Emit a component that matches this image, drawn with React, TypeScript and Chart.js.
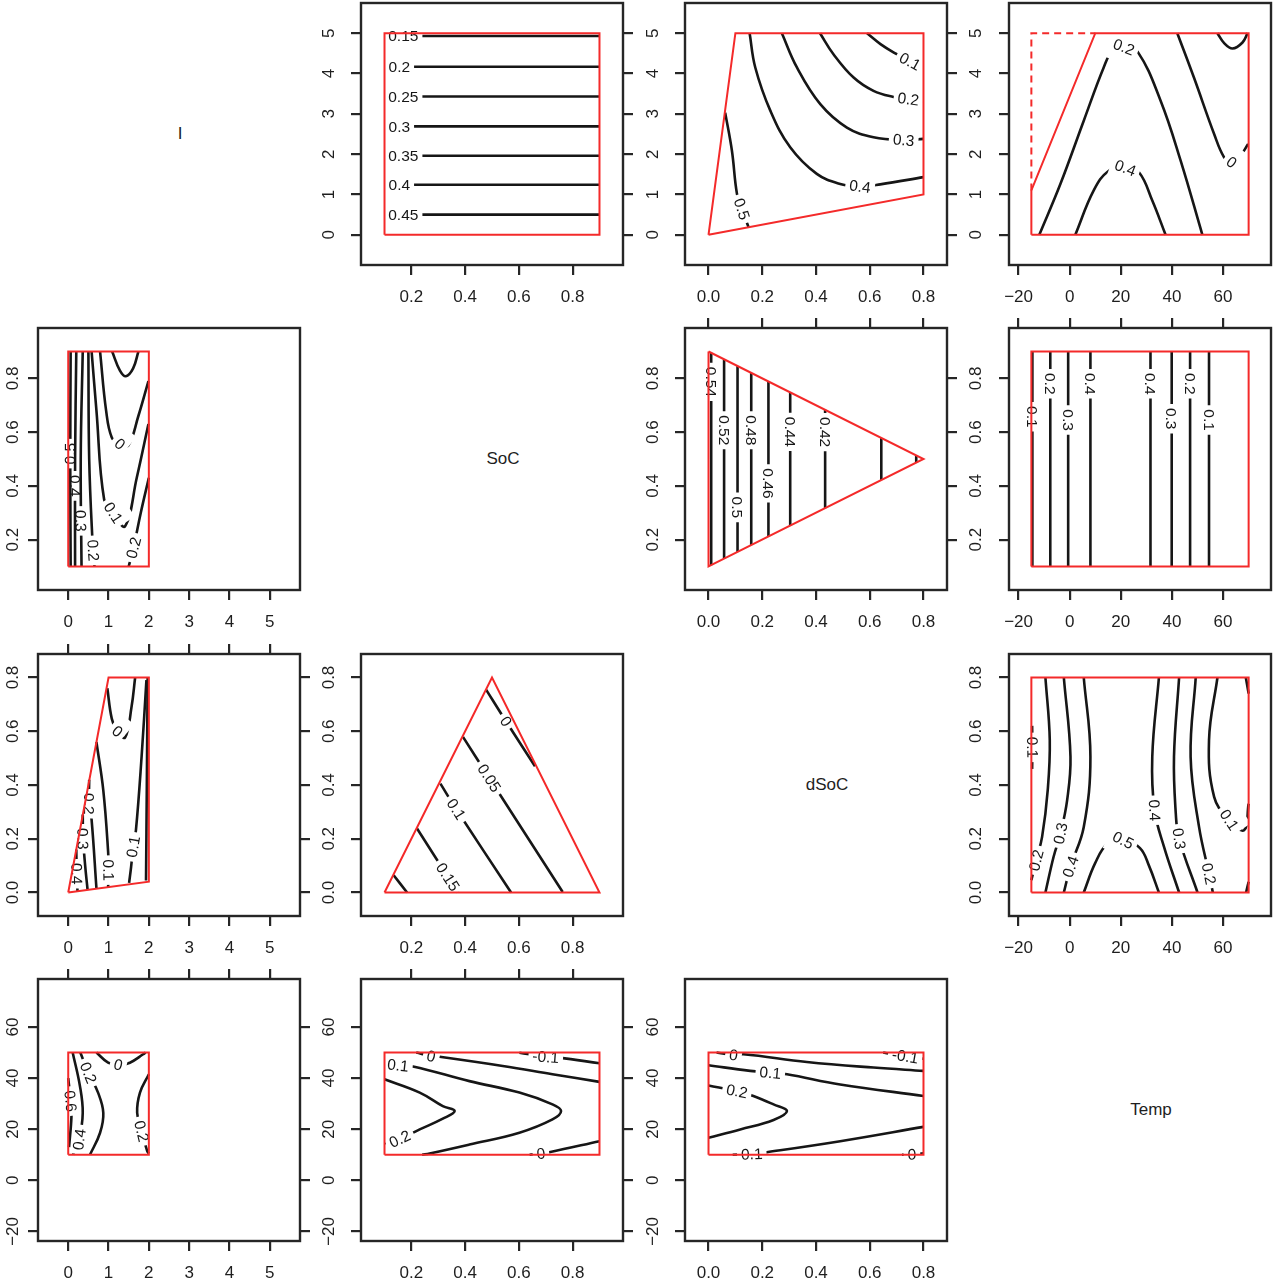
import React, { useEffect, useRef } from 'react';
import { Chart, registerables } from 'chart.js';

Chart.register(...registerables);

type Pt = [number, number];
type Contour = { level: string; pts: Pt[]; at?: Pt };

// ---------------- variables / axes ----------------
const VARIABLES = ['I', 'SoC', 'dSoC', 'Temp'];
const I_LIMITS: Pt = [-0.75, 5.75];
const SOC_LIMITS: Pt = [0.0125, 0.9875];
const DSOC_LIMITS: Pt = [-0.0875, 0.8875];
const TEMP_LIMITS: Pt = [-23.75, 78.75];
const I_TICKS = [0, 1, 2, 3, 4, 5];
const SOC_TICKS = [0.2, 0.4, 0.6, 0.8];
const DSOC_TICKS = [0, 0.2, 0.4, 0.6, 0.8];
const TEMP_TICKS = [-20, 0, 20, 40, 60];

// ---------------- panel data (x variable _ y variable) ----------------
// row 1
const SOC_I_REGION: Pt[] = [[0.1, 0], [0.9, 0], [0.9, 5], [0.1, 5], [0.1, 0]];
const SOC_I_CONTOURS: Contour[] = [
  { level: '0.15', pts: [[0.1, 4.93], [0.9, 4.93]], at: [0.17, 4.93] },
  { level: '0.2', pts: [[0.1, 4.17], [0.9, 4.17]], at: [0.155, 4.17] },
  { level: '0.25', pts: [[0.1, 3.43], [0.9, 3.43]], at: [0.17, 3.43] },
  { level: '0.3', pts: [[0.1, 2.69], [0.9, 2.69]], at: [0.155, 2.69] },
  { level: '0.35', pts: [[0.1, 1.96], [0.9, 1.96]], at: [0.17, 1.96] },
  { level: '0.4', pts: [[0.1, 1.24], [0.9, 1.24]], at: [0.155, 1.24] },
  { level: '0.45', pts: [[0.1, 0.5], [0.9, 0.5]], at: [0.17, 0.5] },
];

const DSOC_I_REGION: Pt[] = [[0, 0], [0.1, 5], [0.8, 5], [0.8, 1], [0, 0]];
const DSOC_I_CONTOURS: Contour[] = [
  { level: '0.1', pts: [[0.59, 5], [0.64, 4.73], [0.695, 4.5], [0.75, 4.3], [0.8, 4.16]], at: [0.75, 4.3] },
  { level: '0.2', pts: [[0.415, 5], [0.465, 4.48], [0.54, 3.9], [0.614, 3.57], [0.688, 3.42], [0.744, 3.37], [0.8, 3.32]], at: [0.744, 3.37] },
  { level: '0.3', pts: [[0.273, 5], [0.329, 4.15], [0.416, 3.24], [0.515, 2.66], [0.614, 2.42], [0.726, 2.35], [0.8, 2.38]], at: [0.726, 2.35] },
  { level: '0.4', pts: [[0.153, 5], [0.174, 4.15], [0.23, 3.08], [0.304, 2.17], [0.403, 1.51], [0.49, 1.26], [0.564, 1.2], [0.639, 1.25], [0.8, 1.43]], at: [0.564, 1.2] },
  { level: '0.5', pts: [[0.062, 3.03], [0.087, 2.09], [0.106, 1.01], [0.124, 0.64], [0.149, 0.19]], at: [0.124, 0.64] },
];

const TEMP_I_REGION: Pt[] = [[-15, 0], [70, 0], [70, 5], [10, 5], [-15, 1.1], [-15, 0]];
const TEMP_I_DASHED: Pt[] = [[-15, 1.1], [-15, 5], [10, 5]];
const TEMP_I_CONTOURS: Contour[] = [
  { level: '0.2', pts: [[-11.9, 0], [-3.65, 1.26], [5.5, 2.83], [13.3, 4.15], [17, 4.6], [21.2, 4.68], [26.5, 4.55], [35.6, 3.32], [43.4, 1.84], [51.9, 0]], at: [21.2, 4.66] },
  { level: '0.4', pts: [[2.2, 0], [9.4, 1.1], [15.3, 1.59], [21.8, 1.68], [27.1, 1.55], [32.3, 0.85], [37.5, 0]], at: [21.8, 1.66] },
  { level: '0', pts: [[42.1, 5], [48.6, 3.9], [56.5, 2.5], [60.4, 1.92], [63.3, 1.78], [66.3, 1.92], [69.8, 2.25]], at: [63.3, 1.8] },
  { level: '-0.1', pts: [[57.8, 5], [60.5, 4.75], [63.7, 4.62], [67.6, 4.77], [69.6, 5]] },
];

// row 2
const I_SOC_REGION: Pt[] = [[0, 0.1], [2, 0.1], [2, 0.9], [0, 0.9], [0, 0.1]];
const I_SOC_CONTOURS: Contour[] = [
  { level: '0.5', pts: [[0.06, 0.9], [0.05, 0.5], [0.06, 0.1]], at: [0.05, 0.52] },
  { level: '0.4', pts: [[0.2, 0.9], [0.17, 0.5], [0.17, 0.1]], at: [0.17, 0.4] },
  { level: '0.3', pts: [[0.36, 0.9], [0.31, 0.5], [0.33, 0.1]], at: [0.31, 0.27] },
  { level: '0.2', pts: [[0.5, 0.9], [0.52, 0.5], [0.6, 0.2], [0.65, 0.1]], at: [0.62, 0.16] },
  { level: '0.1', pts: [[0.58, 0.9], [0.7, 0.68], [0.89, 0.35], [1.12, 0.297], [1.41, 0.25], [1.7, 0.43], [1.99, 0.63]], at: [1.12, 0.3] },
  { level: '0', pts: [[0.79, 0.9], [0.94, 0.68], [1.08, 0.58], [1.28, 0.555], [1.49, 0.55], [1.74, 0.66], [1.99, 0.79]], at: [1.28, 0.556] },
  { level: '-0.1', pts: [[1.09, 0.9], [1.28, 0.83], [1.43, 0.808], [1.61, 0.837], [1.74, 0.9]] },
  { level: '0.2', pts: [[1.5, 0.1], [1.62, 0.17], [1.8, 0.3], [2.0, 0.43]], at: [1.62, 0.17] },
];

const DSOC_SOC_REGION: Pt[] = [[0, 0.9], [0.8, 0.5], [0, 0.1], [0, 0.9]];
const DSOC_SOC_CONTOURS: Contour[] = [
  { level: '0.54', pts: [[0.01, 0.105], [0.01, 0.895]], at: [0.01, 0.787] },
  { level: '0.52', pts: [[0.058, 0.129], [0.058, 0.871]], at: [0.058, 0.607] },
  { level: '0.5', pts: [[0.108, 0.154], [0.108, 0.846]], at: [0.108, 0.32] },
  { level: '0.48', pts: [[0.159, 0.18], [0.159, 0.82]], at: [0.159, 0.607] },
  { level: '0.46', pts: [[0.223, 0.212], [0.223, 0.788]], at: [0.223, 0.409] },
  { level: '0.44', pts: [[0.304, 0.252], [0.304, 0.748]], at: [0.304, 0.601] },
  { level: '0.42', pts: [[0.434, 0.317], [0.434, 0.683]], at: [0.434, 0.6] },
  { level: '0.4', pts: [[0.643, 0.422], [0.643, 0.578]] },
  { level: '0.38', pts: [[0.773, 0.487], [0.773, 0.513]] },
];

const TEMP_SOC_REGION: Pt[] = [[-15, 0.1], [70, 0.1], [70, 0.9], [-15, 0.9], [-15, 0.1]];
const TEMP_SOC_CONTOURS: Contour[] = [
  { level: '0.1', pts: [[-14.6, 0.1], [-14.6, 0.9]], at: [-14.6, 0.657] },
  { level: '0.2', pts: [[-7.6, 0.1], [-7.6, 0.9]], at: [-7.6, 0.78] },
  { level: '0.3', pts: [[-0.6, 0.1], [-0.6, 0.9]], at: [-0.6, 0.645] },
  { level: '0.4', pts: [[8.1, 0.1], [8.1, 0.9]], at: [8.1, 0.78] },
  { level: '0.4', pts: [[31.6, 0.1], [31.6, 0.9]], at: [31.6, 0.78] },
  { level: '0.3', pts: [[39.9, 0.1], [39.9, 0.9]], at: [39.9, 0.65] },
  { level: '0.2', pts: [[47.1, 0.1], [47.1, 0.9]], at: [47.1, 0.78] },
  { level: '0.1', pts: [[54.5, 0.1], [54.5, 0.9]], at: [54.5, 0.645] },
];

// row 3
const I_DSOC_REGION: Pt[] = [[0, 0], [1, 0.8], [2, 0.8], [2, 0.04], [0, 0]];
const I_DSOC_CONTOURS: Contour[] = [
  { level: '0', pts: [[0.97, 0.76], [1.08, 0.647], [1.2, 0.604], [1.41, 0.577], [1.57, 0.69], [1.66, 0.8]], at: [1.22, 0.6] },
  { level: '0.1', pts: [[0.7, 0.56], [0.87, 0.38], [0.99, 0.151], [1.0, 0.083], [0.99, 0.02]], at: [1.0, 0.083] },
  { level: '0.1', pts: [[1.94, 0.79], [1.82, 0.505], [1.68, 0.232], [1.61, 0.17], [1.56, 0.095], [1.51, 0.036]], at: [1.61, 0.17] },
  { level: '0.2', pts: [[1.97, 0.8], [1.95, 0.4], [1.93, 0.045]] },
  { level: '0.2', pts: [[0.52, 0.42], [0.52, 0.33], [0.58, 0.27], [0.7, 0.015]], at: [0.52, 0.33] },
  { level: '0.3', pts: [[0.36, 0.29], [0.37, 0.2], [0.42, 0.1], [0.48, 0.01]], at: [0.36, 0.2] },
  { level: '0.4', pts: [[0.2, 0.16], [0.21, 0.07], [0.23, 0.005]], at: [0.21, 0.07] },
];

const SOC_DSOC_REGION: Pt[] = [[0.1, 0], [0.5, 0.8], [0.9, 0], [0.1, 0]];
const SOC_DSOC_CONTOURS: Contour[] = [
  { level: '0', pts: [[0.478, 0.755], [0.552, 0.637], [0.66, 0.47]], at: [0.552, 0.637] },
  { level: '0.05', pts: [[0.392, 0.579], [0.49, 0.426], [0.763, 0.002]], at: [0.49, 0.426] },
  { level: '0.1', pts: [[0.308, 0.405], [0.367, 0.31], [0.571, 0]], at: [0.367, 0.31] },
  { level: '0.15', pts: [[0.221, 0.238], [0.336, 0.058], [0.373, 0]], at: [0.336, 0.058] },
  { level: '0.2', pts: [[0.134, 0.064], [0.184, 0]] },
];

const TEMP_DSOC_REGION: Pt[] = [[-15, 0], [70, 0], [70, 0.8], [-15, 0.8], [-15, 0]];
const TEMP_DSOC_CONTOURS: Contour[] = [
  { level: '0.1', pts: [[-14.7, 0.62], [-14.6, 0.54], [-14.7, 0.46]], at: [-14.6, 0.54] },
  { level: '0.2', pts: [[-9.5, 0.8], [-7.8, 0.567], [-8.6, 0.381], [-10.8, 0.207], [-13.1, 0.12], [-15, 0.046]], at: [-13.1, 0.12] },
  { level: '0.3', pts: [[-2.3, 0.8], [0.3, 0.505], [-1.0, 0.344], [-3.6, 0.22], [-6.3, 0.133], [-9.5, 0]], at: [-3.6, 0.22] },
  { level: '0.4', pts: [[5.5, 0.8], [8.1, 0.505], [5.5, 0.244], [0.3, 0.096], [-2.3, 0]], at: [0.3, 0.096] },
  { level: '0.5', pts: [[5.5, 0], [10, 0.11], [14.7, 0.18], [20.9, 0.197], [27.5, 0.165], [31, 0.1], [34.9, 0]], at: [20.9, 0.195] },
  { level: '0.4', pts: [[34.9, 0.8], [32.3, 0.505], [33.2, 0.306], [36.9, 0.17], [42.8, 0]], at: [33.2, 0.306] },
  { level: '0.3', pts: [[42.8, 0.8], [40.8, 0.505], [41.5, 0.294], [42.8, 0.2], [50, 0]], at: [42.8, 0.2] },
  { level: '0.2', pts: [[49.3, 0.8], [47.3, 0.505], [50.6, 0.244], [54.5, 0.07], [56, 0]], at: [54.5, 0.07] },
  { level: '0.1', pts: [[57.8, 0.8], [54.5, 0.567], [56.5, 0.356], [62.4, 0.27], [68.2, 0.232], [70, 0.33]], at: [62.4, 0.27] },
  { level: '0', pts: [[68.9, 0.8], [70, 0.74]] },
  { level: '0', pts: [[69, 0], [70, 0.04]] },
];

// row 4
const I_TEMP_REGION: Pt[] = [[0, 10], [2, 10], [2, 50], [0, 50], [0, 10]];
const I_TEMP_CONTOURS: Contour[] = [
  { level: '0', pts: [[0.7, 50], [0.99, 46], [1.24, 45], [1.53, 46], [1.86, 49.3], [1.92, 50]], at: [1.24, 45.2] },
  { level: '0.2', pts: [[0.3, 50], [0.5, 42.1], [0.74, 34.3], [0.87, 26.4], [0.79, 18.6], [0.54, 10]], at: [0.5, 42.1] },
  { level: '0.4', pts: [[0.11, 50], [0.29, 36.9], [0.36, 26.4], [0.27, 16], [0.12, 10]], at: [0.27, 16] },
  { level: '0.6', pts: [[0, 40], [0.06, 31], [0.08, 25], [0.02, 13]], at: [0.06, 31] },
  { level: '0.2', pts: [[2, 41.5], [1.78, 34.3], [1.71, 26.4], [1.82, 19.2], [1.96, 11.4], [2, 10.5]], at: [1.82, 19.2] },
];

const SOC_TEMP_REGION: Pt[] = [[0.1, 10], [0.9, 10], [0.9, 50], [0.1, 50], [0.1, 10]];
const SOC_TEMP_CONTOURS: Contour[] = [
  { level: '0', pts: [[0.218, 50], [0.274, 48.6], [0.305, 48.3], [0.54, 44.7], [0.725, 41.5], [0.9, 38.5]], at: [0.274, 48.6] },
  { level: '-0.1', pts: [[0.602, 49.9], [0.7, 48.4], [0.75, 48], [0.9, 45.8]], at: [0.7, 48.3] },
  { level: '0.1', pts: [[0.1, 45.6], [0.15, 45.0], [0.206, 44.5], [0.416, 38.8], [0.602, 34.3], [0.725, 29.7], [0.757, 27.1], [0.725, 23.8], [0.602, 18.6], [0.416, 14.0], [0.268, 10.5], [0.24, 10]], at: [0.15, 45] },
  { level: '0.2', pts: [[0.1, 39.5], [0.231, 34.3], [0.317, 29], [0.361, 27.1], [0.317, 24.1], [0.231, 19.9], [0.157, 16.2], [0.1, 14.5]], at: [0.157, 16.2] },
  { level: '0', pts: [[0.64, 10], [0.682, 10.5], [0.713, 11], [0.9, 15.3]], at: [0.682, 10.5] },
];

const DSOC_TEMP_REGION: Pt[] = [[0, 10], [0.8, 10], [0.8, 50], [0, 50], [0, 10]];
const DSOC_TEMP_CONTOURS: Contour[] = [
  { level: '0', pts: [[0.03, 50], [0.093, 49], [0.13, 49.3], [0.366, 46.3], [0.614, 44.1], [0.8, 42.8]], at: [0.093, 49] },
  { level: '-0.1', pts: [[0.65, 50], [0.732, 48.5], [0.8, 47.6]], at: [0.732, 48.5] },
  { level: '0.1', pts: [[0, 45], [0.155, 42.8], [0.23, 42.1], [0.292, 41.5], [0.49, 37.5], [0.8, 33]], at: [0.23, 42.1] },
  { level: '0.2', pts: [[0, 37.1], [0.106, 34.9], [0.167, 33], [0.242, 29.7], [0.292, 27.1], [0.242, 23.6], [0.118, 19.9], [0, 16.6]], at: [0.106, 34.9] },
  { level: '0.1', pts: [[0.09, 10], [0.161, 10.3], [0.217, 11], [0.49, 15.3], [0.8, 20.9]], at: [0.161, 10.3] },
  { level: '0', pts: [[0.72, 10], [0.757, 10.1], [0.8, 10.6]], at: [0.757, 10.1] },
];

// ---------------- layout / style ----------------
const LIMITS = [I_LIMITS, SOC_LIMITS, DSOC_LIMITS, TEMP_LIMITS];
const TICKS = [I_TICKS, SOC_TICKS, DSOC_TICKS, TEMP_TICKS];
const FORMATS = [
  (v: number) => String(v),
  (v: number) => v.toFixed(1),
  (v: number) => v.toFixed(1),
  (v: number) => (v < 0 ? '\u2212' + Math.abs(v) : String(v)),
];

const BOX_LEFT = [38, 361, 685, 1009];
const BOX_TOP = [3, 328, 654, 979];
const BOX_W = 262;
const BOX_H = 262;
const M_L = 60, M_T = 16, M_R = 16, M_B = 50;
const CW = M_L + BOX_W + M_R;
const CH = M_T + BOX_H + M_B;
const Y_LABEL_OFFSET = [25, 32, 32, 33];

const FONT = '"Liberation Sans", Arimo, Arial, Helvetica, sans-serif';
const INK = '#161616';
const FRAME = '#262626';
const TXT = '#1e1e1e';
const RED = '#f42a2a';
const TICK_FONT = 17;
const LABEL_FONT = 15.5;

interface PanelSpec {
  row: number;
  col: number;
  region: Pt[];
  dashed?: Pt[];
  contours: Contour[];
  topTicks: boolean;
  rightTicks: boolean;
}

const PANELS: PanelSpec[] = [
  { row: 0, col: 1, region: SOC_I_REGION, contours: SOC_I_CONTOURS, topTicks: false, rightTicks: true },
  { row: 0, col: 2, region: DSOC_I_REGION, contours: DSOC_I_CONTOURS, topTicks: false, rightTicks: true },
  { row: 0, col: 3, region: TEMP_I_REGION, dashed: TEMP_I_DASHED, contours: TEMP_I_CONTOURS, topTicks: false, rightTicks: false },
  { row: 1, col: 0, region: I_SOC_REGION, contours: I_SOC_CONTOURS, topTicks: false, rightTicks: false },
  { row: 1, col: 2, region: DSOC_SOC_REGION, contours: DSOC_SOC_CONTOURS, topTicks: true, rightTicks: true },
  { row: 1, col: 3, region: TEMP_SOC_REGION, contours: TEMP_SOC_CONTOURS, topTicks: true, rightTicks: false },
  { row: 2, col: 0, region: I_DSOC_REGION, contours: I_DSOC_CONTOURS, topTicks: true, rightTicks: true },
  { row: 2, col: 1, region: SOC_DSOC_REGION, contours: SOC_DSOC_CONTOURS, topTicks: false, rightTicks: false },
  { row: 2, col: 3, region: TEMP_DSOC_REGION, contours: TEMP_DSOC_CONTOURS, topTicks: false, rightTicks: false },
  { row: 3, col: 0, region: I_TEMP_REGION, contours: I_TEMP_CONTOURS, topTicks: true, rightTicks: true },
  { row: 3, col: 1, region: SOC_TEMP_REGION, contours: SOC_TEMP_CONTOURS, topTicks: true, rightTicks: true },
  { row: 3, col: 2, region: DSOC_TEMP_REGION, contours: DSOC_TEMP_CONTOURS, topTicks: false, rightTicks: false },
];

function segDist(px: number, py: number, ax: number, ay: number, bx: number, by: number) {
  const dx = bx - ax, dy = by - ay;
  const l2 = dx * dx + dy * dy;
  let t = l2 > 0 ? ((px - ax) * dx + (py - ay) * dy) / l2 : 0;
  t = Math.max(0, Math.min(1, t));
  const cx = ax + t * dx, cy = ay + t * dy;
  return Math.hypot(px - cx, py - cy);
}

function drawContourLabels(chart: any) {
  const { ctx } = chart;
  const xs = chart.scales.x, ys = chart.scales.y;
  chart.data.datasets.forEach((ds: any, i: number) => {
    if (ds.kind !== 'contour' || !ds.at) return;
    const meta = chart.getDatasetMeta(i);
    const px = xs.getPixelForValue(ds.at[0]);
    const py = ys.getPixelForValue(ds.at[1]);
    const pts = meta.data as any[];
    let best = Infinity, ang = 0;
    for (let k = 0; k < pts.length - 1; k++) {
      const a = pts[k], b = pts[k + 1];
      const d = segDist(px, py, a.x, a.y, b.x, b.y);
      if (d < best) { best = d; ang = Math.atan2(b.y - a.y, b.x - a.x); }
    }
    if (ang > Math.PI / 2 + 1e-6) ang -= Math.PI;
    else if (ang <= -Math.PI / 2 + 1e-6) ang += Math.PI;
    ctx.save();
    ctx.font = `${LABEL_FONT}px ${FONT}`;
    const w = ctx.measureText(ds.level).width;
    const m = ctx.getTransform();
    ctx.translate(px, py);
    ctx.rotate(ang);
    ctx.beginPath();
    ctx.rect(-w / 2 - 4, -16, w + 8, 32);
    ctx.setTransform(m);
    ctx.clip();
    // break the contour's own line under its label
    ctx.beginPath();
    meta.dataset.path(ctx);
    ctx.strokeStyle = '#ffffff';
    ctx.lineWidth = 6;
    ctx.stroke();
    ctx.translate(px, py);
    ctx.rotate(ang);
    ctx.fillStyle = INK;
    ctx.textAlign = 'center';
    ctx.textBaseline = 'middle';
    ctx.fillText(ds.level, 0, 1);
    ctx.restore();
  });
}

function buildChart(canvas: HTMLCanvasElement, spec: PanelSpec) {
  const xi = spec.col, yi = spec.row;
  const xl = LIMITS[xi], yl = LIMITS[yi];
  const xt = TICKS[xi], yt = TICKS[yi];
  const xf = FORMATS[xi], yf = FORMATS[yi];

  const datasets: any[] = [];
  datasets.push({
    kind: 'poly', data: spec.region.map(([x, y]) => ({ x, y })), showLine: true,
    borderColor: RED, borderWidth: 2, pointRadius: 0, tension: 0, order: 0, fill: false,
  });
  if (spec.dashed) {
    datasets.push({
      kind: 'poly', data: spec.dashed.map(([x, y]) => ({ x, y })), showLine: true,
      borderColor: RED, borderWidth: 2, borderDash: [7, 5], pointRadius: 0, tension: 0, order: 0, fill: false,
    });
  }
  for (const c of spec.contours) {
    datasets.push({
      kind: 'contour', level: c.level, at: c.at, data: c.pts.map(([x, y]) => ({ x, y })), showLine: true,
      borderColor: INK, borderWidth: 2.6, pointRadius: 0, tension: 0.4, order: 1, fill: false,
    });
  }

  const tickGrid = (show: boolean) => ({
    display: show, drawOnChartArea: false, drawTicks: true, tickLength: 10,
    tickWidth: 2.2, tickColor: FRAME, lineWidth: 2.2, color: FRAME,
  });
  const setTicks = (vals: number[]) => (s: any) => { s.ticks = vals.map((v) => ({ value: v })); };

  let labelsDone = false;
  const decor = {
    id: 'decor',
    beforeDatasetsDraw() { labelsDone = false; },
    beforeDatasetDraw(chart: any, args: any) {
      const ds = chart.data.datasets[args.index];
      if (ds.kind === 'poly' && !labelsDone) { drawContourLabels(chart); labelsDone = true; }
    },
    afterDatasetsDraw(chart: any) {
      const { ctx, chartArea: a } = chart;
      ctx.save();
      ctx.strokeStyle = FRAME;
      ctx.lineWidth = 2.4;
      ctx.strokeRect(a.left, a.top, a.right - a.left, a.bottom - a.top);
      ctx.restore();
    },
    afterDraw(chart: any) {
      const { ctx, chartArea: a } = chart;
      const ys = chart.scales.y;
      ctx.save();
      ctx.font = `${TICK_FONT}px ${FONT}`;
      ctx.fillStyle = TXT;
      ctx.textAlign = 'center';
      ctx.textBaseline = 'middle';
      for (const t of ys.ticks) {
        const py = ys.getPixelForValue(t.value);
        ctx.save();
        ctx.translate(a.left - Y_LABEL_OFFSET[spec.col], py);
        ctx.rotate(-Math.PI / 2);
        ctx.fillText(yf(t.value), 0, 0);
        ctx.restore();
      }
      ctx.restore();
    },
  };

  return new Chart(canvas, {
    type: 'scatter',
    data: { datasets },
    options: {
      animation: false,
      responsive: false,
      maintainAspectRatio: false,
      devicePixelRatio: 1,
      events: [],
      layout: { padding: 0, autoPadding: false },
      plugins: { legend: { display: false }, tooltip: { enabled: false }, title: { display: false } },
      scales: {
        x: {
          type: 'linear', position: 'bottom', min: xl[0], max: xl[1],
          afterBuildTicks: setTicks(xt),
          afterFit: (s: any) => { s.height = M_B; },
          grid: tickGrid(true), border: { display: false },
          ticks: {
            display: true, autoSkip: false, maxRotation: 0, minRotation: 0, padding: 12,
            color: TXT, font: { family: FONT, size: TICK_FONT },
            callback: (v: any) => xf(Number(v)),
          },
        },
        x2: {
          type: 'linear', axis: 'x', position: 'top', min: xl[0], max: xl[1],
          afterBuildTicks: setTicks(xt),
          afterFit: (s: any) => { s.height = M_T; },
          grid: tickGrid(spec.topTicks), border: { display: false },
          ticks: { display: false },
        },
        y: {
          type: 'linear', position: 'left', min: yl[0], max: yl[1],
          afterBuildTicks: setTicks(yt),
          afterFit: (s: any) => { s.width = M_L; },
          grid: tickGrid(true), border: { display: false },
          ticks: { display: false },
        },
        y2: {
          type: 'linear', axis: 'y', position: 'right', min: yl[0], max: yl[1],
          afterBuildTicks: setTicks(yt),
          afterFit: (s: any) => { s.width = M_R; },
          grid: tickGrid(spec.rightTicks), border: { display: false },
          ticks: { display: false },
        },
      },
    } as any,
    plugins: [decor],
  });
}

function PanelChart({ spec }: { spec: PanelSpec }) {
  const ref = useRef<HTMLCanvasElement>(null);
  useEffect(() => {
    if (!ref.current) return;
    const chart = buildChart(ref.current, spec);
    return () => chart.destroy();
  }, [spec]);
  return (
    <canvas
      ref={ref}
      width={CW}
      height={CH}
      style={{ position: 'absolute', left: BOX_LEFT[spec.col] - M_L, top: BOX_TOP[spec.row] - M_T, width: CW, height: CH }}
    />
  );
}

export default function App() {
  return (
    <div style={{ position: 'absolute', left: 0, top: 0, width: 1273, height: 1280, overflow: 'hidden', background: '#fff' }}>
      {PANELS.map((p) => (
        <PanelChart key={`${p.row}-${p.col}`} spec={p} />
      ))}
      {VARIABLES.map((name, i) => (
        <div
          key={name}
          style={{
            position: 'absolute',
            left: BOX_LEFT[i] + BOX_W / 2 + 11,
            top: BOX_TOP[i] + BOX_H / 2,
            transform: 'translate(-50%, -50%)',
            font: `17px ${FONT}`,
            color: TXT,
            whiteSpace: 'nowrap',
          }}
        >
          {name}
        </div>
      ))}
    </div>
  );
}
